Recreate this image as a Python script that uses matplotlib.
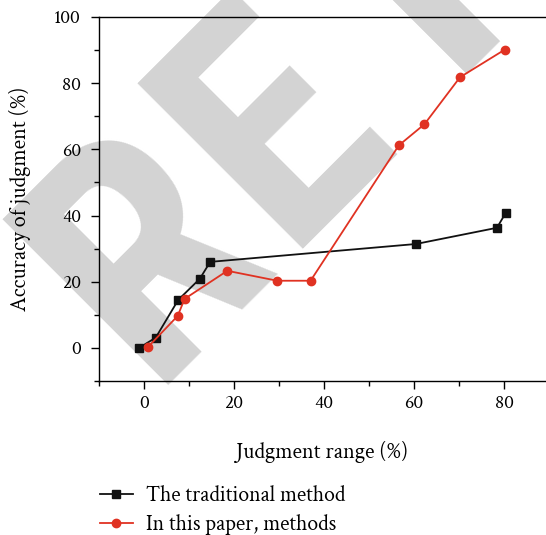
import matplotlib
matplotlib.use("Agg")
from matplotlib import pyplot as plt
from matplotlib.ticker import MultipleLocator

# traditional method (black squares)
trad_x = [-1.1, 2.6, 7.6, 12.4, 14.7, 60.4, 78.4, 80.4]
trad_y = [0.0, 3.1, 14.5, 20.9, 26.0, 31.4, 36.3, 40.9]

# this paper (red circles)
paper_x = [0.9, 7.5, 9.0, 18.5, 29.6, 37.0, 56.6, 62.3, 70.2, 80.1]
paper_y = [0.3, 9.7, 14.8, 23.3, 20.3, 20.3, 61.2, 67.6, 81.8, 90.1]

labels = ["The traditional method", "In this paper, methods"]

plt.rcParams['font.family'] = ['Crimson Text', 'Liberation Serif', 'DejaVu Serif']

W, H = 546, 535
fig = plt.figure(figsize=(W/100, H/100), dpi=100)
ax = fig.add_axes([99/W, 1-381/H, 1-99/W, (381-17)/H])
ax.set_zorder(1)
ax.patch.set_alpha(0)

# watermark behind the plot, letters spread along a 45 degree baseline
wm_letters = "RET"
wm_offsets = [-6, 185, 376]   # px along the baseline
x0, y0 = 153, 380
for ch, u in zip(wm_letters, wm_offsets):
    px = x0 + 0.7071*u
    py = y0 - 0.7071*u
    fig.text(px/W, 1-py/H, ch, fontsize=236, fontweight='bold',
             family=['Roboto Condensed', 'DejaVu Sans'], color='#d3d3d3',
             rotation=45, rotation_mode='anchor', ha='left', va='baseline',
             zorder=0)

ax.plot(trad_x, trad_y, color='#111111', lw=1.3, marker='s', ms=5.5,
        label=labels[0])
ax.plot(paper_x, paper_y, color='#e03222', lw=1.3, marker='o', ms=6,
        label=labels[1])

ax.set_xlim(-10, 89.3)
ax.set_ylim(-10, 100)
ax.xaxis.set_major_locator(MultipleLocator(20))
ax.xaxis.set_minor_locator(MultipleLocator(10))
ax.yaxis.set_major_locator(MultipleLocator(20))
ax.yaxis.set_minor_locator(MultipleLocator(10))
ax.tick_params(which='major', direction='out', length=5.5, width=1, labelsize=14, pad=5)
ax.tick_params(axis='y', which='major', pad=7.5)
ax.tick_params(which='minor', direction='out', length=3.3, width=1)
ax.spines['right'].set_visible(False)
for s in ['left', 'top', 'bottom']:
    ax.spines[s].set_linewidth(1)

ax.set_xlabel("Judgment range (%)", fontsize=16, labelpad=21)
ax.set_ylabel("Accuracy of judgment (%)", fontsize=16, labelpad=17)

fig.legend(loc='upper left', bbox_to_anchor=(100/W, 1-486/H), frameon=False,
           fontsize=15.7, handlelength=1.5, handletextpad=0.6, labelspacing=0.33,
           borderaxespad=0, borderpad=0)

fig.savefig("out.png", dpi=100)
